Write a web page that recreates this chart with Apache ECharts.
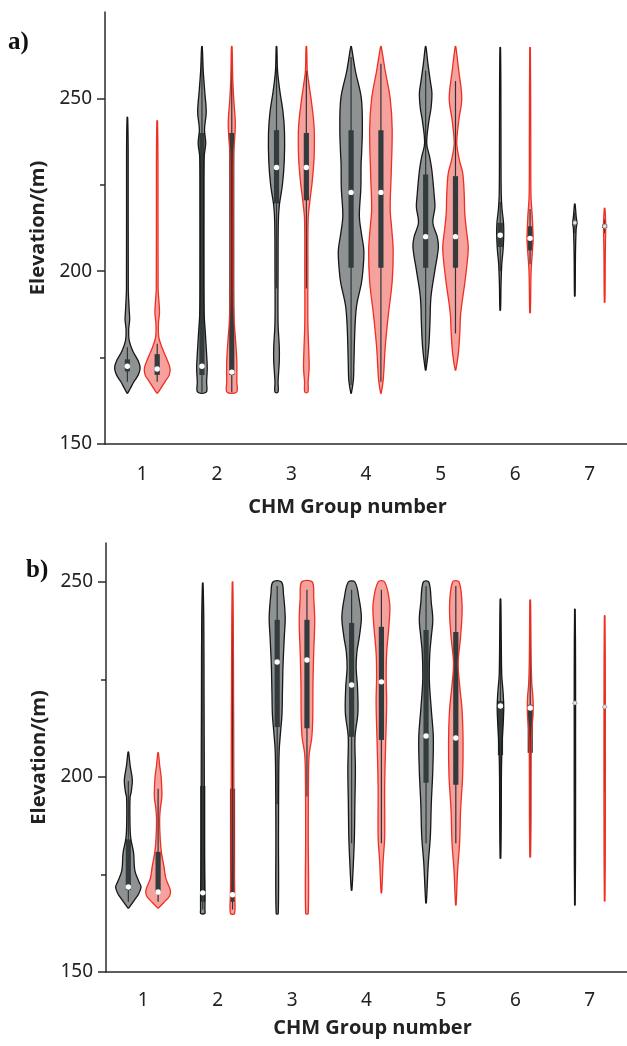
<!DOCTYPE html>
<html>
<head>
<meta charset="utf-8">
<title>Elevation by CHM group number</title>
<script src="https://cdn.jsdelivr.net/npm/echarts@6/dist/echarts.min.js"></script>
<style>
  html, body { margin: 0; padding: 0; background: #fff; }
  #chart { width: 627px; height: 1046px; }
</style>
</head>
<body>
<div id="chart"></div>
<script>
const groups = ['1', '2', '3', '4', '5', '6', '7'];

// violin outlines per group: [elevation, relative half width]
const aBlackShape = [
  [[244.5, 0], [235, 0.04], [195, 0.05], [189, 0.12], [186, 0.16], [183, 0.08], [180, 0.12], [177, 0.4], [174, 0.85], [172, 1.0], [170, 0.85], [168, 0.5], [166, 0.2], [164.7, 0]],
  [[265, 0], [258, 0.08], [252, 0.2], [246, 0.32], [241, 0.18], [237, 0.28], [233, 0.15], [220, 0.12], [200, 0.12], [188, 0.15], [182, 0.25], [176, 0.35], [172, 0.4], [168, 0.35], [165, 0.32]],
  [[265, 0], [258, 0.06], [252, 0.25], [246, 0.5], [240, 0.62], [232, 0.6], [225, 0.45], [219, 0.2], [214, 0.12], [200, 0.1], [185, 0.1], [178, 0.2], [174, 0.2], [168, 0.1], [165, 0.1]],
  [[265, 0], [258, 0.32], [250, 0.8], [241, 0.88], [234, 0.82], [231, 0.78], [224, 0.76], [216, 0.64], [211, 0.8], [206, 1.0], [200, 0.92], [196.5, 0.8], [190, 0.42], [183, 0.28], [173, 0.2], [168.5, 0.16], [164.7, 0]],
  [[265, 0], [260, 0.16], [255, 0.35], [251.4, 0.48], [247, 0.4], [243.6, 0.24], [237, 0.06], [233, 0.3], [229, 0.48], [222, 0.66], [218.5, 0.72], [214, 0.55], [210, 0.9], [207, 1.0], [200.3, 0.72], [192.5, 0.4], [185, 0.32], [178, 0.22], [171.4, 0]],
  [[264.7, 0], [250, 0.03], [230, 0.04], [222, 0.06], [218, 0.12], [214, 0.24], [210.5, 0.26], [206, 0.2], [202, 0.1], [196, 0.04], [188.7, 0]],
  [[219.4, 0], [216, 0.08], [214, 0.14], [212, 0.08], [205, 0.03], [192.8, 0]]
];
const aRedShape = [
  [[243.5, 0], [230, 0.04], [195, 0.05], [191, 0.12], [188, 0.16], [185, 0.08], [181, 0.1], [178, 0.35], [175, 0.7], [172, 1.0], [170, 0.95], [168, 0.6], [166, 0.25], [164.7, 0]],
  [[265, 0], [255, 0.06], [249, 0.15], [243, 0.26], [239, 0.22], [234, 0.12], [220, 0.1], [195, 0.1], [186, 0.16], [180, 0.28], [174, 0.38], [168, 0.38], [165, 0.36]],
  [[265, 0], [258, 0.05], [255, 0.15], [250, 0.35], [244, 0.55], [240, 0.62], [233, 0.6], [226, 0.45], [220, 0.25], [215, 0.12], [200, 0.1], [185, 0.1], [176, 0.18], [172, 0.2], [168, 0.12], [165, 0.1]],
  [[265, 0], [258, 0.32], [250, 0.72], [241, 0.88], [228, 0.8], [218, 0.72], [212, 0.85], [206, 0.96], [197, 0.88], [187, 0.56], [178, 0.32], [168.5, 0.16], [164.7, 0]],
  [[265, 0], [258, 0.24], [250, 0.48], [243.6, 0.24], [237, 0.08], [232, 0.3], [228.3, 0.56], [222, 0.68], [216.8, 0.72], [212, 0.85], [207, 1.0], [202, 0.9], [196.5, 0.72], [188, 0.4], [182, 0.32], [176, 0.2], [171.4, 0]],
  [[264.7, 0], [240, 0.03], [222, 0.05], [216, 0.15], [212, 0.2], [209, 0.22], [205, 0.15], [200, 0.06], [188, 0]],
  [[218.2, 0], [214, 0.06], [212, 0.06], [205, 0.03], [191, 0]]
];
const bBlackShape = [
  [[206.4, 0], [203, 0.12], [199.2, 0.3], [196, 0.2], [194.9, 0.12], [190, 0.1], [184.6, 0.16], [180.5, 0.4], [176, 0.5], [173, 0.85], [171.8, 1.0], [170, 0.8], [168.5, 0.48], [166.4, 0]],
  [[249.7, 0], [240, 0.06], [220, 0.08], [200, 0.1], [185, 0.1], [175, 0.12], [170, 0.15], [166, 0.15], [165, 0.14]],
  [[250, 0.32], [247, 0.48], [241, 0.62], [236, 0.55], [229, 0.45], [222, 0.4], [216, 0.36], [212, 0.26], [207, 0.14], [200, 0.1], [185, 0.08], [165, 0.06]],
  [[250, 0.24], [246, 0.56], [241, 0.76], [236, 0.6], [232, 0.4], [228, 0.34], [223, 0.45], [216.4, 0.48], [210.3, 0.25], [201.8, 0.28], [193.3, 0.24], [184.6, 0.2], [178, 0.12], [171, 0]],
  [[250, 0.2], [244.6, 0.4], [240.3, 0.52], [236, 0.4], [231.8, 0.28], [224.9, 0.24], [217.2, 0.4], [210.3, 0.56], [201.8, 0.52], [193.3, 0.4], [184.6, 0.32], [178, 0.16], [167.7, 0]],
  [[245.6, 0], [235, 0.04], [226, 0.08], [222, 0.18], [218, 0.24], [214, 0.2], [208, 0.1], [200, 0.05], [190, 0.04], [179.2, 0]],
  [[243, 0], [225, 0.03], [210, 0.03], [190, 0.03], [167.2, 0]]
];
const bRedShape = [
  [[206.2, 0], [203, 0.1], [200, 0.22], [195, 0.28], [192, 0.16], [189, 0.1], [184, 0.15], [180.5, 0.25], [177, 0.45], [174, 0.6], [171, 0.96], [169.5, 0.9], [167.7, 0.4], [166.4, 0]],
  [[250, 0], [230, 0.05], [200, 0.08], [180, 0.1], [170, 0.14], [165, 0.14]],
  [[250, 0.4], [246, 0.52], [240, 0.6], [232, 0.52], [224, 0.46], [215, 0.44], [210, 0.36], [206, 0.16], [200, 0.1], [185, 0.08], [165, 0.08]],
  [[250, 0.24], [244.6, 0.64], [239.5, 0.6], [231.8, 0.4], [226, 0.36], [219, 0.4], [208.7, 0.32], [197.4, 0.24], [184.6, 0.24], [178.7, 0.12], [170.3, 0]],
  [[250, 0.24], [243.6, 0.48], [236, 0.36], [229.2, 0.16], [223, 0.3], [217.2, 0.48], [208.7, 0.56], [200, 0.52], [191.5, 0.36], [183, 0.28], [176, 0.12], [167.2, 0]],
  [[245.4, 0], [230, 0.05], [224, 0.1], [220, 0.2], [216, 0.2], [212, 0.1], [205, 0.05], [190, 0.04], [179.5, 0]],
  [[241.3, 0], [220, 0.03], [190, 0.03], [168.2, 0]]
];

// box stats per group: [whisker low, q1, median, q3, whisker high]
const aBlackBox = [
  [168, 171, 172.5, 174.5, 178], [165, 170, 172.5, 240, 262], [195, 219.6, 230, 240.8, 259],
  [167, 201, 222.8, 240.8, 262], [172, 201, 210, 228, 258], [200, 207, 210.4, 214, 220], [211, 213.5, 214, 214.5, 217]
];
const aRedBox = [
  [168, 170, 171.7, 176, 179], [165, 170, 170.8, 240, 262], [195, 220.5, 230, 240, 258],
  [168, 201, 222.8, 240.8, 260], [182, 201, 210, 227.5, 255], [202, 206, 209.5, 213, 218], [211, 212.5, 213, 213.5, 215]
];
const bBlackBox = [
  [168, 171, 171.8, 184, 199], [166, 168, 170.3, 197.7, 248], [193, 212.8, 229.5, 240.3, 249],
  [183, 210.3, 223.6, 239.5, 248], [183, 198.5, 210.5, 237.7, 249], [179.2, 205.6, 218.2, 219.5, 245.6], [196, 219, 219, 219, 232]
];
const bRedBox = [
  [168, 170.3, 170.5, 180.8, 197], [166, 168, 169.8, 197, 248], [195, 212.5, 230, 240.3, 248],
  [183, 209.5, 224.4, 238.5, 248], [183, 198, 210, 237.2, 249], [179.5, 206.2, 217.7, 218.5, 245.4], [196, 218, 218, 218, 227]
];

const yMajorA = [150, 200, 250];
const yMinorA = [175, 225];
const yMajorB = [150, 200, 250];
const yMinorB = [175, 225];

const chart = echarts.init(document.getElementById('chart'));

const colors = [
  { fill: '#8e9293', line: '#161616' },
  { fill: '#f5a19d', line: '#ee2f22' }
];
const textColor = '#222';
const axisColor = '#2b2b2b';

function violinSeries(gridIdx, shapes, boxes) {
  const data = [];
  for (let g = 0; g < groups.length; g++) {
    data.push([g, boxes[0][g][2], 0]);
    data.push([g, boxes[1][g][2], 1]);
  }
  return {
    type: 'custom',
    xAxisIndex: gridIdx,
    yAxisIndex: gridIdx * 2,
    encode: { x: 0, y: 1 },
    silent: true,
    data: data,
    renderItem: function (params, api) {
      const g = api.value(0);
      const side = api.value(2);
      const shape = shapes[side][g];
      const box = boxes[side][g];
      const band = api.size([1, 0])[0];
      const cx = api.coord([g, 0])[0] + (side ? 1 : -1) * 0.2 * band;
      const maxHW = band * 0.167;
      const y = v => api.coord([g, v])[1];
      const right = shape.map(p => [cx + p[1] * maxHW + 0.3, y(p[0])]);
      const left = shape.slice().reverse().map(p => [cx - p[1] * maxHW - 0.3, y(p[0])]);
      const pts = right.concat(left);
      const col = colors[side];
      const children = [
        { type: 'polygon', shape: { points: pts, smooth: 0.35 }, style: { fill: col.fill, stroke: null } },
        { type: 'line', shape: { x1: cx, y1: y(box[0]), x2: cx, y2: y(box[4]) }, style: { stroke: '#2e3435', lineWidth: 1.2 } },
        { type: 'rect', shape: { x: cx - 2.6, y: y(box[3]), width: 5.2, height: Math.max(y(box[1]) - y(box[3]), 0.5) }, style: { fill: '#343b3c' } },
        { type: 'polygon', shape: { points: pts, smooth: 0.35 }, style: { fill: null, stroke: col.line, lineWidth: 1.3 } }
      ];
      if (g === groups.length - 1) {
        children.push({ type: 'circle', shape: { cx: cx, cy: y(box[2]), r: 2 }, style: { fill: '#e4e4e4', stroke: '#9a9a9a', lineWidth: 0.7 } });
      } else {
        children.push({ type: 'circle', shape: { cx: cx, cy: y(box[2]), r: 2.7 }, style: { fill: '#fff' } });
      }
      return { type: 'group', children: children };
    }
  };
}

function xAxis(gridIdx, nameGap, namePad, labelMargin) {
  return {
    type: 'category',
    gridIndex: gridIdx,
    data: groups,
    boundaryGap: true,
    name: 'CHM Group number',
    nameLocation: 'middle',
    nameGap: nameGap,
    nameTextStyle: { fontFamily: 'Open Sans', fontWeight: 'bold', fontSize: 20, color: textColor, padding: namePad },
    axisLine: { lineStyle: { color: axisColor, width: 1.5 } },
    axisTick: { alignWithLabel: true, length: 8, lineStyle: { color: axisColor, width: 1.5 } },
    axisLabel: { margin: labelMargin, fontFamily: 'Noto Sans', fontSize: 19, color: textColor },
    splitLine: { show: false }
  };
}

function yAxes(gridIdx, max, major, minor) {
  return [{
    type: 'value',
    gridIndex: gridIdx,
    min: 150,
    max: max,
    name: 'Elevation/(m)',
    nameLocation: 'middle',
    nameGap: 52,
    nameRotate: 90,
    nameTextStyle: { fontFamily: 'Open Sans', fontWeight: 'bold', fontSize: 20, color: textColor },
    axisLine: { show: true, lineStyle: { color: axisColor, width: 1.5 } },
    axisTick: { show: true, customValues: major, length: 8, lineStyle: { color: axisColor, width: 1.5 } },
    axisLabel: { customValues: major, margin: 13, fontFamily: 'Noto Sans', fontSize: 19, color: textColor },
    splitLine: { show: false }
  }, {
    type: 'value',
    gridIndex: gridIdx,
    min: 150,
    max: max,
    position: 'left',
    axisLine: { show: false },
    axisTick: { show: true, customValues: minor, length: 5, lineStyle: { color: axisColor, width: 1.5 } },
    axisLabel: { show: false },
    splitLine: { show: false }
  }];
}

chart.setOption({
  animation: false,
  backgroundColor: '#fff',
  grid: [
    { left: 105, top: 12, width: 525, height: 432 },
    { left: 106, top: 543, width: 525, height: 429 }
  ],
  xAxis: [
    xAxis(0, 53, [0, 37, 0, 0], 21),
    xAxis(1, 46, [0, 0, 0, 12], 19)
  ],
  yAxis: yAxes(0, 275, yMajorA, yMinorA).concat(yAxes(1, 260, yMajorB, yMinorB)),
  graphic: [
    { type: 'text', left: 8, top: 30, style: { text: 'a)', font: 'bold 25px "Liberation Serif"', fill: '#111' } },
    { type: 'text', left: 26, top: 558, style: { text: 'b)', font: 'bold 25px "Liberation Serif"', fill: '#111' } }
  ],
  series: [
    violinSeries(0, [aBlackShape, aRedShape], [aBlackBox, aRedBox]),
    violinSeries(1, [bBlackShape, bRedShape], [bBlackBox, bRedBox])
  ]
});
</script>
</body>
</html>
